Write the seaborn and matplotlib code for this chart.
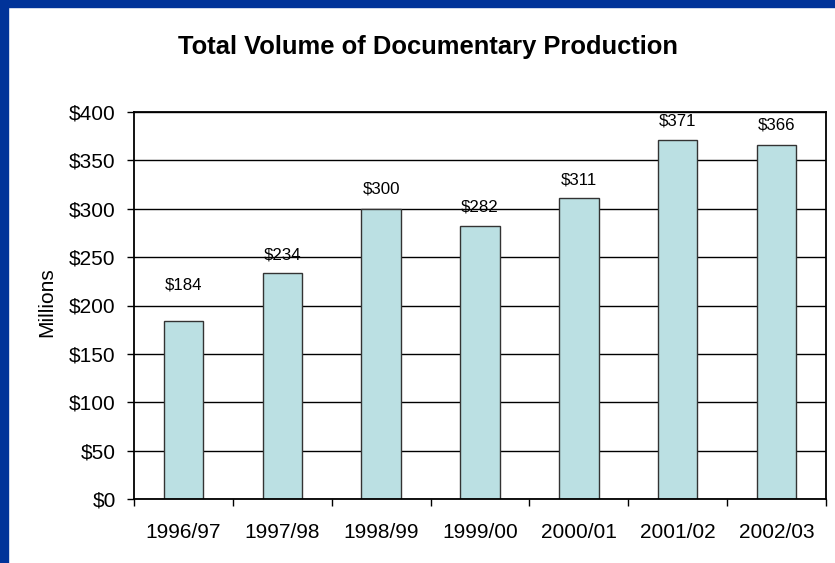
import matplotlib
matplotlib.use('Agg')
import numpy as np
import pandas as pd
import matplotlib.pyplot as plt
import seaborn as sns
from matplotlib.patches import Rectangle
from matplotlib.ticker import FuncFormatter

# data (millions of dollars)
years = ['1996/97', '1997/98', '1998/99', '1999/00', '2000/01', '2001/02', '2002/03']
volume = [184, 234, 300, 282, 311, 371, 366]
# vertical offset of each value label above its bar (points)
label_offsets = [26, 13, 14, 14, 13, 14, 14]

df = pd.DataFrame({'year': years, 'volume': volume})

sns.set_theme(style='white')
plt.rcParams['font.family'] = ['Liberation Sans', 'DejaVu Sans']

fig = plt.figure(figsize=(8.35, 5.63), dpi=100)
ax = fig.add_axes([134 / 835, 64 / 563, 692 / 835, 387 / 563])

sns.barplot(data=df, x='year', y='volume', color='#bbe0e3', saturation=1,
            edgecolor='#333333', linewidth=1, width=0.4, ax=ax)

for p, v, off in zip(ax.patches, volume, label_offsets):
    ax.annotate(f'${v}', (p.get_x() + p.get_width() / 2, p.get_height()),
                xytext=(0, off), textcoords='offset points',
                ha='center', va='center', fontsize=12.2, color='black')

# axes styling
ax.set_axisbelow(True)
ax.yaxis.grid(True, color='black', linewidth=1)
ax.set_ylim(0, 400)
ax.set_yticks(range(0, 401, 50))
ax.yaxis.set_major_formatter(FuncFormatter(lambda y, _: f'${int(y)}'))
ax.set_xlim(-0.5, 6.5)
ax.set_xticks(np.arange(-0.5, 7, 1), minor=True)
ax.tick_params(axis='x', which='major', length=0, pad=17, labelsize=15, labelcolor='black')
ax.tick_params(axis='x', which='minor', bottom=True, length=5, width=1, color='black', direction='out')
ax.tick_params(axis='y', left=True, length=5, width=1, color='black', direction='out',
               pad=8.2, labelsize=15, labelcolor='black')
for s in ax.spines.values():
    s.set_color('black')
    s.set_linewidth(1.3)

ax.set_xlabel('')
ax.set_ylabel('Millions', fontsize=15, color='black')
ax.yaxis.set_label_coords(-0.112, 0.51)

fig.text(428 / 835, 1 - 47 / 563, 'Total Volume of Documentary Production',
         ha='center', va='center', fontsize=18.4, fontweight='bold', color='black')

# blue frame along the left and top edges
fig.patches.append(Rectangle((0, 0), 8 / 835, 1, transform=fig.transFigure, color='#003399'))
fig.patches.append(Rectangle((0, 1 - 7 / 563), 1, 7 / 563, transform=fig.transFigure, color='#003399'))

fig.savefig('out.png', dpi=100)
